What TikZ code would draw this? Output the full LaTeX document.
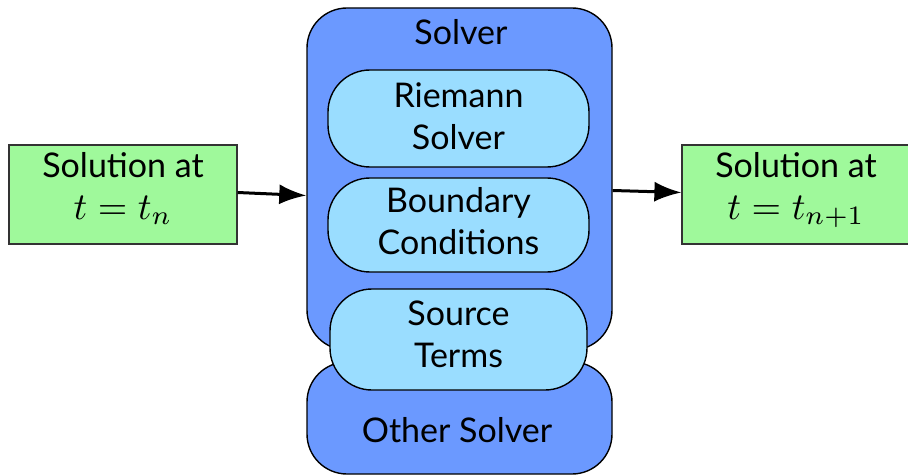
\documentclass[tikz,border=0pt]{standalone}
\usepackage{graphicx}
\usepackage{fontspec}
\setmainfont{Lato}
\usetikzlibrary{arrows.meta,calc}
\definecolor{solgreen}{HTML}{9FF99B}
\definecolor{solverblue}{HTML}{6B99FF}
\definecolor{partblue}{HTML}{9ADDFF}
\newcommand{\mathbig}[1]{{\fontsize{10}{12}\selectfont\scalebox{3.8}{#1}}}
\newcommand{\lift}[1]{\rule[-#1pt]{0pt}{1pt}}
\tikzset{
  txt/.style={font=\fontsize{34}{42}\selectfont, align=center, inner sep=0pt},
  greenbox/.style={txt, draw=black!80, line width=1.2pt, fill=solgreen, minimum height=99pt},
  solverbox/.style={draw=black, line width=1.4pt, fill=solverblue, rounded corners=40pt, minimum width=305pt},
  partbox/.style={txt, draw=black, line width=1.4pt, fill=partblue, rounded corners=42pt},
  flow/.style={line width=3pt, -{Latex[length=27pt,width=20pt]}}
}
\begin{document}
\begin{tikzpicture}[x=1pt,y=-1pt]
\useasboundingbox (0,0) rectangle (908,476);
% solver boxes
\node[solverbox, minimum height=342pt] (solver) at (459.5,179) {};
\node[txt] (solvertitle) at (461,32) {Solver};
\node[solverbox, minimum height=112pt] (other) at (459.5,418) {};
\node[txt] (othertitle) at (457,430) {Other Solver};
% parts
\node[partbox, minimum width=261pt, minimum height=97pt] (riemann) at (458.5,118.5) {Riemann\\Solver\lift{5}};
\node[partbox, minimum width=261pt, minimum height=94pt] (boundary) at (458.5,225) {Boundary\\Conditions\lift{9}};
\node[partbox, minimum width=257pt, minimum height=101pt] (source) at (458.5,339.5) {Source\\Terms\lift{10}};
% solutions
\node[greenbox, minimum width=228pt] (lsol) at (123,194.5) {Solution at\\ \mathbig{$t=t_n$}\lift{18}};
\node[greenbox, minimum width=228pt] (rsol) at (796,194.5) {Solution at\\ \mathbig{$t=t_{n+1}$}\lift{18}};
% arrows
\draw[flow] ($(lsol.east)+(0,-2)$) -- ($(lsol.east -| solver.west)+(0,1)$);
\draw[flow] ($(rsol.west -| solver.east)+(0,-4)$) -- ($(rsol.west)+(0,-2)$);
\end{tikzpicture}
\end{document}
